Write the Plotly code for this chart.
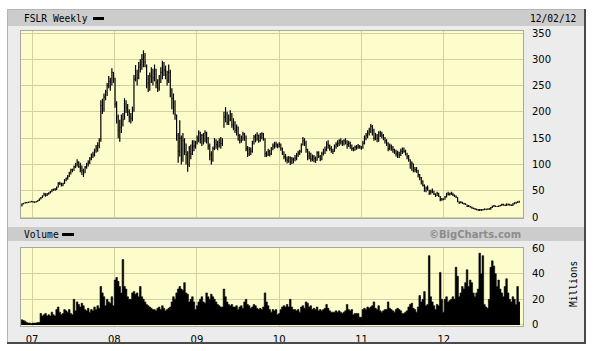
import plotly.graph_objects as go
import pandas as pd

W, H = 597, 351

# ---------------- data (weekly, FSLR) ----------------
weeks = pd.date_range("2006-11-17", periods=316, freq="7D")

close = [
    24.6, 26.0, 27.5, 27.0, 28.0, 28.5, 29.8, 28.5, 28.0, 29.5, 31.0, 34.0, 36.5, 40.0, 44.0, 42.0,
    44.0, 45.5, 48.0, 52.0, 51.5, 52.0, 56.0, 64.0, 64.0, 60.5, 63.5, 70.0, 73.0, 76.0, 83.0, 90.0,
    89.0, 96.0, 97.0, 104.0, 96.0, 93.0, 88.0, 84.0, 95.0, 100.0, 103.0, 110.0, 118.0, 118.0, 126.0, 131.0,
    136.0, 145.0, 212.0, 205.0, 228.0, 238.0, 250.0, 258.0, 248.0, 275.0, 267.0, 215.0, 190.0, 165.0, 170.0, 185.0,
    185.0, 215.0, 208.0, 200.0, 190.0, 188.0, 200.0, 262.0, 270.0, 265.0, 285.0, 290.0, 300.0, 305.0, 295.0, 262.0,
    255.0, 268.0, 275.0, 265.0, 280.0, 255.0, 245.0, 262.0, 275.0, 285.0, 280.0, 270.0, 260.0, 275.0, 240.0, 225.0,
    210.0, 195.0, 155.0, 125.0, 150.0, 110.0, 145.0, 125.0, 118.0, 100.0, 130.0, 120.0, 140.0, 135.0, 140.0, 150.0,
    160.0, 148.0, 155.0, 145.0, 160.0, 150.0, 135.0, 118.0, 108.0, 130.0, 140.0, 138.0, 135.0, 142.0, 140.0, 145.0,
    190.0, 195.0, 180.0, 185.0, 195.0, 175.0, 180.0, 165.0, 170.0, 155.0, 145.0, 150.0, 158.0, 155.0, 130.0, 120.0,
    128.0, 125.0, 140.0, 152.0, 148.0, 155.0, 145.0, 153.0, 158.0, 150.0, 120.0, 118.0, 125.0, 120.0, 130.0, 135.0,
    140.0, 137.0, 135.0, 138.0, 130.0, 122.0, 115.0, 110.0, 108.0, 112.0, 105.0, 110.0, 108.0, 112.0, 118.0, 122.0,
    125.0, 138.0, 145.0, 140.0, 128.0, 115.0, 120.0, 110.0, 115.0, 112.0, 108.0, 122.0, 115.0, 110.0, 120.0, 125.0,
    128.0, 138.0, 136.0, 130.0, 128.0, 125.0, 135.0, 138.0, 140.0, 145.0, 143.0, 140.0, 145.0, 142.0, 138.0, 140.0,
    135.0, 130.0, 128.0, 133.0, 132.0, 135.0, 133.0, 130.0, 140.0, 150.0, 155.0, 160.0, 165.0, 172.0, 165.0, 150.0,
    155.0, 150.0, 160.0, 158.0, 155.0, 150.0, 145.0, 140.0, 130.0, 135.0, 132.0, 128.0, 125.0, 120.0, 122.0, 118.0,
    125.0, 130.0, 125.0, 120.0, 115.0, 110.0, 100.0, 102.0, 90.0, 90.0, 88.0, 80.0, 75.0, 68.0, 60.0, 52.0,
    55.0, 55.0, 45.0, 48.0, 50.0, 44.0, 40.0, 45.0, 40.0, 33.0, 34.0, 34.0, 38.0, 44.0, 43.0, 44.0,
    45.0, 42.0, 40.0, 38.0, 30.0, 27.0, 28.0, 26.0, 25.0, 24.0, 20.0, 21.0, 19.0, 17.0, 16.0, 15.0,
    14.0, 13.0, 14.0, 13.0, 14.0, 15.0, 14.0, 15.0, 15.0, 18.0, 20.0, 21.0, 20.0, 20.0, 21.0, 22.0,
    24.0, 23.0, 22.0, 24.0, 24.0, 23.0, 22.0, 25.0, 26.0, 27.0, 28.0, 29.0,
]

high = [
    25.8, 26.5, 28.0, 28.5, 28.8, 29.5, 30.5, 30.5, 29.5, 30.5, 32.0, 35.0, 38.0, 41.0, 46.0, 45.0,
    45.5, 47.0, 49.5, 53.0, 54.0, 55.0, 58.0, 66.0, 67.0, 65.0, 65.0, 72.0, 75.0, 80.0, 86.0, 92.0,
    92.0, 98.0, 103.0, 110.0, 106.0, 103.0, 98.0, 92.0, 97.0, 103.0, 108.0, 114.0, 121.0, 124.0, 130.0, 137.0,
    142.0, 150.0, 222.0, 225.0, 235.0, 242.0, 255.0, 268.0, 265.0, 283.0, 276.0, 265.0, 220.0, 195.0, 185.0, 195.0,
    198.0, 226.0, 222.0, 215.0, 205.0, 198.0, 210.0, 270.0, 289.0, 280.0, 295.0, 300.0, 310.0, 317.0, 312.0, 290.0,
    270.0, 275.0, 285.0, 282.0, 290.0, 282.0, 262.0, 270.0, 285.0, 297.0, 295.0, 288.0, 278.0, 290.0, 280.0, 245.0,
    235.0, 222.0, 195.0, 160.0, 184.0, 155.0, 160.0, 150.0, 140.0, 125.0, 135.0, 138.0, 146.0, 146.0, 145.0, 155.0,
    165.0, 162.0, 158.0, 160.0, 165.0, 162.0, 152.0, 140.0, 125.0, 134.0, 150.0, 148.0, 145.0, 150.0, 152.0, 150.0,
    200.0, 209.0, 200.0, 195.0, 203.0, 198.0, 188.0, 182.0, 176.0, 172.0, 158.0, 155.0, 162.0, 160.0, 155.0, 135.0,
    133.0, 132.0, 145.0, 156.0, 158.0, 161.0, 157.0, 160.0, 161.0, 160.0, 150.0, 125.0, 130.0, 128.0, 133.0, 140.0,
    143.0, 143.0, 140.0, 142.0, 140.0, 132.0, 125.0, 120.0, 115.0, 116.0, 115.0, 114.0, 113.0, 118.0, 122.0, 126.0,
    128.0, 140.0, 152.0, 150.0, 145.0, 130.0, 125.0, 122.0, 119.0, 118.0, 115.0, 125.0, 125.0, 118.0, 124.0, 130.0,
    134.0, 144.0, 146.0, 138.0, 135.0, 130.0, 138.0, 142.0, 146.0, 148.0, 150.0, 146.0, 148.0, 150.0, 146.0, 145.0,
    143.0, 138.0, 133.0, 136.0, 137.0, 139.0, 137.0, 135.0, 145.0, 155.0, 160.0, 165.0, 170.0, 177.0, 175.0, 168.0,
    160.0, 158.0, 163.0, 164.0, 162.0, 158.0, 152.0, 148.0, 142.0, 140.0, 138.0, 135.0, 130.0, 128.0, 126.0, 124.0,
    130.0, 132.0, 132.0, 128.0, 122.0, 118.0, 110.0, 106.0, 102.0, 95.0, 95.0, 90.0, 82.0, 76.0, 70.0, 62.0,
    58.0, 60.0, 52.0, 52.0, 54.0, 50.0, 45.0, 48.0, 46.0, 40.0, 36.0, 35.0, 40.0, 46.0, 48.0, 46.0,
    48.0, 46.0, 43.0, 41.0, 38.0, 30.0, 30.0, 29.0, 27.0, 26.0, 24.0, 23.0, 21.0, 20.0, 18.0, 17.0,
    16.0, 15.0, 15.0, 15.0, 15.0, 16.0, 16.0, 16.0, 17.0, 19.0, 22.0, 23.0, 22.0, 21.0, 22.0, 23.0,
    25.0, 25.0, 24.0, 26.0, 25.0, 25.0, 24.0, 26.0, 28.0, 29.0, 30.0, 31.0,
]

low = [
    20.0, 24.0, 25.5, 26.5, 26.8, 27.5, 28.0, 27.5, 27.0, 27.5, 29.0, 30.5, 33.5, 36.0, 39.5, 38.5,
    40.0, 42.5, 44.5, 47.0, 50.0, 50.0, 51.5, 56.0, 61.0, 58.0, 58.5, 63.0, 68.0, 71.0, 76.0, 81.0,
    85.0, 88.0, 93.0, 96.0, 93.0, 85.0, 80.0, 76.0, 83.0, 92.0, 96.0, 101.0, 108.0, 112.0, 115.0, 122.0,
    124.0, 131.0, 143.0, 196.0, 200.0, 222.0, 230.0, 245.0, 240.0, 250.0, 255.0, 208.0, 178.0, 150.0, 143.0, 160.0,
    172.0, 185.0, 198.0, 192.0, 180.0, 178.0, 182.0, 200.0, 258.0, 250.0, 262.0, 275.0, 280.0, 285.0, 285.0, 245.0,
    238.0, 240.0, 255.0, 250.0, 258.0, 245.0, 238.0, 240.0, 255.0, 262.0, 268.0, 262.0, 250.0, 255.0, 228.0, 205.0,
    195.0, 185.0, 145.0, 103.0, 115.0, 100.0, 105.0, 118.0, 100.0, 86.0, 95.0, 110.0, 118.0, 125.0, 130.0, 138.0,
    142.0, 140.0, 135.0, 138.0, 142.0, 140.0, 128.0, 108.0, 100.0, 105.0, 127.0, 130.0, 127.0, 132.0, 130.0, 135.0,
    170.0, 180.0, 175.0, 175.0, 182.0, 170.0, 165.0, 160.0, 155.0, 145.0, 140.0, 141.0, 145.0, 145.0, 125.0, 114.0,
    116.0, 118.0, 122.0, 138.0, 142.0, 145.0, 141.0, 143.0, 148.0, 145.0, 114.0, 114.0, 116.0, 115.0, 118.0, 127.0,
    130.0, 132.0, 131.0, 132.0, 126.0, 118.0, 110.0, 105.0, 102.0, 103.0, 99.0, 101.0, 102.0, 106.0, 108.0, 114.0,
    118.0, 122.0, 136.0, 135.0, 122.0, 108.0, 110.0, 105.0, 106.0, 104.0, 103.0, 107.0, 112.0, 106.0, 108.0, 117.0,
    120.0, 125.0, 130.0, 126.0, 122.0, 120.0, 124.0, 130.0, 133.0, 135.0, 138.0, 135.0, 136.0, 138.0, 130.0, 133.0,
    130.0, 126.0, 125.0, 126.0, 128.0, 130.0, 130.0, 128.0, 130.0, 138.0, 146.0, 150.0, 155.0, 160.0, 155.0, 145.0,
    146.0, 142.0, 143.0, 152.0, 150.0, 146.0, 140.0, 135.0, 125.0, 127.0, 126.0, 122.0, 120.0, 115.0, 112.0, 112.0,
    116.0, 120.0, 122.0, 117.0, 110.0, 105.0, 92.0, 88.0, 85.0, 85.0, 84.0, 75.0, 70.0, 62.0, 58.0, 48.0,
    47.0, 50.0, 42.0, 43.0, 45.0, 42.0, 38.0, 40.0, 38.0, 30.0, 31.0, 32.0, 33.0, 37.0, 41.0, 41.0,
    42.0, 40.0, 38.0, 36.0, 28.0, 25.0, 26.0, 25.0, 24.0, 23.0, 19.0, 19.0, 18.0, 16.0, 15.0, 14.0,
    13.0, 12.0, 11.5, 12.0, 12.5, 13.0, 13.5, 14.0, 14.0, 14.0, 17.0, 19.0, 19.0, 19.0, 19.0, 20.0,
    21.0, 22.0, 21.0, 21.0, 22.0, 22.0, 21.0, 21.0, 24.0, 25.0, 27.0, 27.0,
]

volume = [  # millions of shares per week
    4, 3.5, 3, 2, 1.5, 1.5, 1.2, 1.5, 1.5, 1.5, 2, 2, 9, 7, 8, 9,
    7, 8, 7, 10, 8, 7, 12, 14, 10, 8, 9, 12, 11, 10, 12, 9,
    8, 20, 11, 18, 16, 14, 17, 15, 12, 11, 13, 10, 12, 11, 14, 12,
    15, 13, 30, 25, 22, 15, 20, 18, 17, 22, 15, 35, 37, 34, 30, 25,
    51, 30, 28, 22, 20, 20, 25, 26, 24, 25, 22, 30, 22, 20, 18, 16,
    15, 14, 13, 12, 12, 11, 13, 14, 12, 15, 13, 11, 12, 13, 14, 18,
    22, 20, 25, 28, 30, 28, 27, 33, 25, 24, 18, 20, 22, 18, 12, 15,
    18, 20, 22, 18, 17, 25, 22, 20, 24, 22, 20, 18, 16, 15, 14, 14,
    28, 22, 18, 16, 15, 16, 14, 14, 15, 12, 14, 15, 13, 18, 20, 16,
    15, 13, 14, 16, 15, 13, 12, 13, 12, 14, 25, 18, 15, 12, 10, 12,
    11, 12, 8, 9, 12, 14, 15, 14, 16, 14, 20, 14, 12, 12, 11, 12,
    10, 14, 15, 13, 18, 17, 14, 15, 12, 13, 12, 14, 11, 12, 11, 12,
    13, 16, 13, 11, 10, 10, 10, 11, 10, 11, 10, 9, 10, 11, 16, 12,
    11, 12, 8, 9, 9, 9, 6, 6, 12, 13, 12, 14, 13, 14, 15, 18,
    13, 12, 15, 11, 10, 11, 12, 12, 18, 13, 12, 11, 10, 12, 13, 12,
    11, 9, 9, 10, 11, 14, 16, 17, 13, 12, 10, 14, 23, 18, 20, 26,
    15, 16, 54, 22, 18, 15, 12, 16, 15, 41, 20, 10, 20, 22, 18, 19,
    20, 22, 20, 45, 38, 22, 25, 30, 28, 33, 43, 30, 35, 33, 25, 22,
    25, 28, 56, 40, 54, 16, 14, 13, 20, 45, 50, 46, 40, 30, 35, 28,
    25, 22, 30, 36, 25, 20, 18, 22, 20, 16, 30, 18,
]

year_ticks = ["2007-01-01", "2008-01-01", "2009-01-01", "2010-01-01", "2011-01-01", "2012-01-01"]
year_labels = ["07", "08", "09", "10", "11", "12"]
price_ticks = [0, 50, 100, 150, 200, 250, 300, 350]
vol_ticks = [0, 20, 40, 60]

# ---------------- helpers ----------------
def px(x):
    return x / W


def py(y):
    return 1 - y / H


GRID = "#d2d2a0"
PLOT_BG = "#fdfdcc"
LABEL_FONT = dict(family="DejaVu Sans", size=10, color="#000000")
MONO = dict(family="DejaVu Sans Mono", size=9.6, color="#000000")

# OHLC-style bars: high-low stem + close tick
xs, ys = [], []
tick = pd.Timedelta(days=3)
for d, h, l, c in zip(weeks, high, low, close):
    xs += [d, d, None, d, d + tick, None]
    ys += [l, h, None, c, c, None]

# volume as a stepped, filled silhouette
vx = list(weeks - pd.Timedelta(days=3.5)) + [weeks[-1] + pd.Timedelta(days=3.5)]
vy = list(volume) + [volume[-1]]

fig = go.Figure()
fig.add_trace(go.Scatter(
    x=xs, y=ys, mode="lines", line=dict(color="#000000", width=1.2),
    xaxis="x", yaxis="y", hoverinfo="skip", showlegend=False,
))
fig.add_trace(go.Scatter(
    x=vx, y=vy, mode="lines", line=dict(color="#000000", width=0.6, shape="hv"),
    fill="tozeroy", fillcolor="#000000",
    xaxis="x2", yaxis="y2", hoverinfo="skip", showlegend=False,
))

xrange_ = ["2006-11-13", "2012-12-17"]
common_x = dict(
    type="date", range=xrange_, tickvals=year_ticks, showgrid=True, gridcolor=GRID,
    gridwidth=1, showline=True, mirror=True, linecolor="#a8a8a0", linewidth=1,
    zeroline=False, fixedrange=True, automargin=False,
)
common_y = dict(
    side="right", showgrid=True, gridcolor=GRID, gridwidth=1, zeroline=False,
    showline=True, mirror=True, linecolor="#a8a8a0", linewidth=1,
    ticks="outside", ticklen=6, tickcolor="rgba(0,0,0,0)", tickfont=LABEL_FONT,
    fixedrange=True, automargin=False,
)

shapes = [
    # outer panel
    dict(type="rect", xref="paper", yref="paper", x0=px(7), x1=px(585), y0=py(343), y1=py(9),
         fillcolor="#ececec", line=dict(width=0), layer="below"),
    # header bars
    dict(type="rect", xref="paper", yref="paper", x0=px(8), x1=px(584), y0=py(26), y1=py(10),
         fillcolor="#cccccc", line=dict(width=0), layer="below"),
    dict(type="rect", xref="paper", yref="paper", x0=px(8), x1=px(584), y0=py(241), y1=py(227),
         fillcolor="#cccccc", line=dict(width=0), layer="below"),
    # plot backgrounds
    dict(type="rect", xref="paper", yref="paper", x0=px(21), x1=px(523), y0=py(218), y1=py(31),
         fillcolor=PLOT_BG, line=dict(width=0), layer="below"),
    dict(type="rect", xref="paper", yref="paper", x0=px(21), x1=px(523), y0=py(326), y1=py(248),
         fillcolor=PLOT_BG, line=dict(width=0), layer="below"),
    # panel edges (light top/left, dark bottom/right)
    dict(type="line", xref="paper", yref="paper", x0=px(7.5), x1=px(7.5), y0=py(343), y1=py(9),
         line=dict(color="#b4b4b4", width=1)),
    dict(type="line", xref="paper", yref="paper", x0=px(7), x1=px(585), y0=py(9.5), y1=py(9.5),
         line=dict(color="#b4b4b4", width=1)),
    dict(type="line", xref="paper", yref="paper", x0=px(585), x1=px(585), y0=py(344), y1=py(9),
         line=dict(color="#4a4a4a", width=2)),
    dict(type="line", xref="paper", yref="paper", x0=px(7), x1=px(586), y0=py(343), y1=py(343),
         line=dict(color="#4a4a4a", width=2)),
    # legend dashes
    dict(type="line", xref="paper", yref="paper", x0=px(93), x1=px(104), y0=py(18.5), y1=py(18.5),
         line=dict(color="#000000", width=3)),
    dict(type="line", xref="paper", yref="paper", x0=px(62), x1=px(74), y0=py(234.5), y1=py(234.5),
         line=dict(color="#000000", width=3)),
]

annotations = [
    dict(text="FSLR Weekly", x=px(21.5), y=py(18), xref="paper", yref="paper", xanchor="left",
         yanchor="middle", showarrow=False, font=MONO),
    dict(text="12/02/12", x=px(578), y=py(18), xref="paper", yref="paper", xanchor="right",
         yanchor="middle", showarrow=False, font=MONO),
    dict(text="Volume", x=px(21.5), y=py(234.5), xref="paper", yref="paper", xanchor="left",
         yanchor="middle", showarrow=False, font=MONO),
    dict(text="<b>©BigCharts.com</b>", x=px(523), y=py(234.5), xref="paper", yref="paper",
         xanchor="right", yanchor="middle", showarrow=False,
         font=dict(family="DejaVu Sans", size=10, color="#8c8c8c")),
    dict(text="Millions", x=px(573), y=py(284), xref="paper", yref="paper", xanchor="center",
         yanchor="middle", showarrow=False, textangle=-90, font=MONO),
]

fig.update_layout(
    width=W, height=H, margin=dict(l=0, r=0, t=0, b=0, autoexpand=False),
    paper_bgcolor="#ffffff", plot_bgcolor="rgba(0,0,0,0)",
    showlegend=False,
    xaxis=dict(common_x, domain=[px(21), px(523)], anchor="y", showticklabels=False),
    yaxis=dict(common_y, domain=[py(218), py(31)], anchor="x", range=[-1.9, 353.8],
               tickvals=price_ticks),
    xaxis2=dict(common_x, domain=[px(21), px(523)], anchor="y2", ticktext=year_labels,
                ticks="outside", ticklen=4, tickcolor="rgba(0,0,0,0)", tickfont=LABEL_FONT),
    yaxis2=dict(common_y, domain=[py(326), py(248)], anchor="x2", range=[-0.8, 60],
                tickvals=vol_ticks),
    shapes=shapes,
    annotations=annotations,
)

fig.write_html("out.html")
